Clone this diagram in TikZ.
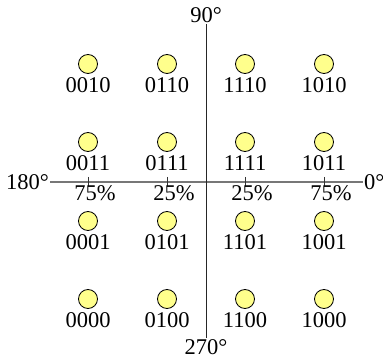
\documentclass[tikz,border=0pt]{standalone}
\usepackage{fontspec}
\setmainfont{Liberation Serif}
\usetikzlibrary{positioning, calc}
\definecolor{dotyellow}{HTML}{FFFF8C}
\definecolor{axisgray}{HTML}{777777}

\begin{document}
\begin{tikzpicture}[x=1pt, y=-1pt,
  every node/.style={font=\fontsize{22.5}{27}\selectfont},
  dot/.style={circle, draw=black, line width=0.8pt, fill=dotyellow, minimum size=19pt, inner sep=0pt},
  code/.style={inner sep=0pt},
  pct/.style={inner sep=0pt},
  deg/.style={inner sep=1pt}]

  \useasboundingbox (0,0) rectangle (383,358);

  % axes
  \coordinate (west) at (50,182);
  \coordinate (east) at (363,182);
  \coordinate (north) at (206,24);
  \coordinate (south) at (206,338);
  \draw[axisgray, line width=1.2pt] (west) -- (east);
  \draw[black!85, line width=1pt] (north) -- (south);

  \node[deg, left=0pt of west] (d180) {180°};
  \node[deg, right=0pt of east] (d0) {0°};
  \node[deg, above=0pt of north] (d90) {90°};
  \node[deg, below=0pt of south] (d270) {270°};

  % ticks and percentages
  \foreach \name/\x/\p in {ta/88/75\%, tb/167/25\%, tc/245/25\%, td/324/75\%} {
    \coordinate (\name up) at (\x,177);
    \coordinate (\name dn) at (\x,186);
    \draw[black!80, line width=0.7pt] (\name up) -- (\name dn);
    \node[pct] (\name lbl) at (\x+7,193) {\p};
  }

  % constellation points
  \foreach \c/\x/\y in {0010/88/64, 0110/167/64, 1110/245/64, 1010/324/64,
                        0011/88/142, 0111/167/142, 1111/245/142, 1011/324/142,
                        0001/88/221, 0101/167/221, 1101/245/221, 1001/324/221,
                        0000/88/299, 0100/167/299, 1100/245/299, 1000/324/299} {
    \node[dot] (p\c) at (\x,\y) {};
    \node[code, below=3.5pt of p\c] (l\c) {\c};
  }

\end{tikzpicture}
\end{document}
